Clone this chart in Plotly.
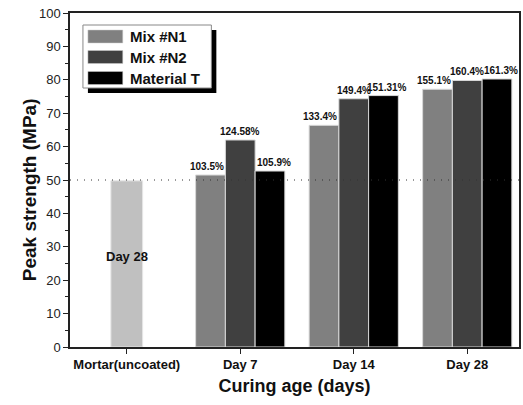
import plotly.graph_objects as go

# Categories on the x axis
categories = ["Mortar(uncoated)", "Day 7", "Day 14", "Day 28"]
cat_index = [0, 1, 2, 3]

# Reference: uncoated mortar strength at day 28 (MPa)
mortar_strength = 49.75

# Relative strength of each mix versus the uncoated mortar (%)
series_names = ["Mix #N1", "Mix #N2", "Material T"]
series_colors = ["#808080", "#404040", "#000000"]
pct_n1 = [103.5, 133.4, 155.1]
pct_n2 = [124.58, 149.4, 160.4]
pct_t = [105.9, 151.31, 161.3]
pct_labels_n1 = ["103.5%", "133.4%", "155.1%"]
pct_labels_n2 = ["124.58%", "149.4%", "160.4%"]
pct_labels_t = ["105.9%", "151.31%", "161.3%"]

FONT = "Liberation Sans, Arial, sans-serif"
W, H = 523, 405
L, R, T, B = 70, 2, 13, 58
PW, PH = W - L - R, H - T - B


def px(x):
    return (x - L) / PW


def py(y):
    return (H - B - y) / PH


fig = go.Figure()

# Uncoated mortar bar
fig.add_trace(go.Bar(
    x=[cat_index[0]], y=[mortar_strength],
    marker=dict(color="#c0c0c0", line=dict(color="#e6e6e6", width=1)),
    width=0.28, offset=-0.14, showlegend=False, hoverinfo="skip",
))

annotations = []
bar_w = 0.262
offsets = [-0.393, -0.131, 0.131]
label_shift = [-4, 0, 4]
pcts = [pct_n1, pct_n2, pct_t]
labels = [pct_labels_n1, pct_labels_n2, pct_labels_t]
for name, color, pct, lab, off, sh in zip(series_names, series_colors, pcts, labels,
                                         offsets, label_shift):
    vals = [mortar_strength * p / 100 for p in pct]
    fig.add_trace(go.Bar(
        x=cat_index[1:], y=vals,
        name=name, marker=dict(color=color, line=dict(color="#d8d8d8", width=1)),
        width=bar_w, offset=off, showlegend=False,
    ))
    # percentage labels above each bar
    for xi, v, s in zip(cat_index[1:], vals, lab):
        annotations.append(dict(
            x=xi + off + bar_w / 2, y=v, xref="x", yref="y", text="<b>%s</b>" % s,
            showarrow=False, xanchor="center", yanchor="bottom", xshift=sh, yshift=1,
            font=dict(family=FONT, size=10, color="#111")))

shapes = [
    # 50 MPa guide line
    dict(type="line", xref="paper", yref="y", x0=0, x1=1, y0=50, y1=50,
         line=dict(color="#333", width=1, dash="1px,6px")),
]

# Legend box with drop shadow
shapes.append(dict(type="rect", xref="paper", yref="paper",
                   x0=px(88), x1=px(217), y0=py(93), y1=py(30),
                   fillcolor="#000", line=dict(width=0), layer="above"))
shapes.append(dict(type="rect", xref="paper", yref="paper",
                   x0=px(83), x1=px(212), y0=py(88), y1=py(25),
                   fillcolor="#fff", line=dict(color="#888", width=1), layer="above"))
row_y = [36.5, 57, 78]
for name, color, ry in zip(series_names, series_colors, row_y):
    shapes.append(dict(type="rect", xref="paper", yref="paper",
                       x0=px(88), x1=px(123), y0=py(ry + 6.5), y1=py(ry - 6.5),
                       fillcolor=color, line=dict(color="#ccc", width=0.5), layer="above"))
    annotations.append(dict(xref="paper", yref="paper", x=px(128), y=py(ry),
                            text="<b>%s</b>" % name, showarrow=False,
                            xanchor="left", yanchor="middle",
                            font=dict(family=FONT, size=15, color="#111")))

annotations.append(dict(x=cat_index[0], y=27, xref="x", yref="y", text="<b>Day 28</b>",
                        showarrow=False, font=dict(family=FONT, size=13, color="#111")))

# y axis title
annotations.append(dict(xref="paper", yref="paper", x=px(29), y=py(190),
                        text="<b>Peak strength (MPa)</b>", textangle=-90, showarrow=False,
                        xanchor="center", yanchor="middle",
                        font=dict(family=FONT, size=19, color="#111")))

fig.update_layout(
    width=W, height=H, margin=dict(l=L, r=R, t=T, b=B),
    paper_bgcolor="white", plot_bgcolor="white",
    barmode="overlay", showlegend=False,
    shapes=shapes, annotations=annotations,
    font=dict(family=FONT, color="#111"),
    xaxis=dict(
        range=[-0.5, 3.456], tickvals=cat_index,
        ticktext=["<b>%s</b>" % c for c in categories],
        tickfont=dict(family=FONT, size=13, color="#111"),
        ticks="outside", ticklen=5, tickwidth=1.2, tickcolor="#222",
        showline=True, mirror=True, linecolor="#222", linewidth=1.5,
        showgrid=False, zeroline=False,
        title=dict(text="<b>Curing age (days)</b>", font=dict(family=FONT, size=18, color="#111"),
                   standoff=8),
    ),
    yaxis=dict(
        range=[0, 100], tickvals=list(range(0, 101, 10)),
        tickfont=dict(family=FONT, size=13, color="#222"),
        ticks="outside", ticklen=5, tickwidth=1.2, tickcolor="#222",
        minor=dict(dtick=5, ticks="outside", ticklen=3, tickwidth=1, tickcolor="#222"),
        showline=True, mirror=True, linecolor="#222", linewidth=1.5,
        showgrid=False, zeroline=False,
    ),
)

fig.write_html("out.html")
